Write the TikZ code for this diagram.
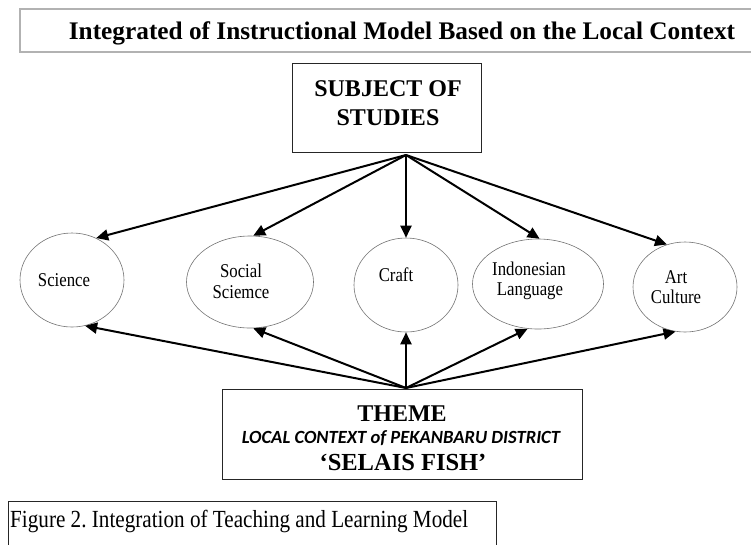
\documentclass[tikz,border=0pt]{standalone}
\usepackage{fontspec}
\setmainfont{Liberation Serif}
\newfontfamily\nrwfont{Liberation Serif}[FakeStretch=0.86]
\newfontfamily\calfont{Carlito}
\usetikzlibrary{arrows.meta,shapes.geometric}
\frenchspacing
\tikzset{
  ell/.style={draw=black!55, line width=0.6pt, ellipse, inner sep=0pt},
  box/.style={draw=black!85, line width=0.9pt, inner sep=0pt},
  arr/.style={line width=2pt, -{Triangle[length=12pt,width=11pt]}},
  small/.style={font=\nrwfont\fontsize{19.5}{21}\selectfont, anchor=base, inner sep=0pt},
  big/.style={font=\bfseries\fontsize{24}{28}\selectfont, anchor=base, inner sep=0pt},
}
\begin{document}
\begin{tikzpicture}[x=1pt,y=-1pt]
\useasboundingbox (0,0) rectangle (751,544);
\clip (0,0) rectangle (751,544);
% title
\draw[draw=black!30, line width=1.4pt] (20,9) rectangle (770,52);
\node[anchor=base, inner sep=0pt, font=\bfseries\fontsize{25.3}{28}\selectfont] (title) at (402,39) {Integrated of Instructional Model Based on the Local Context};
% subject box
\node[box, minimum width=189pt, minimum height=89pt] (subj) at (386.5,107.5) {};
\node[big] (subj1) at (388,96) {SUBJECT OF};
\node[big] (subj2) at (388,125) {STUDIES};
% theme box
\node[box, minimum width=360pt, minimum height=90pt] (theme) at (402,434) {};
\node[big] (theme1) at (402,421) {THEME};
\node[anchor=base, inner sep=0pt, font=\calfont\bfseries\itshape\fontsize{18.6}{20}\selectfont] (theme2) at (401,443) {LOCAL CONTEXT of PEKANBARU DISTRICT};
\node[anchor=base, inner sep=0pt, font=\bfseries\fontsize{24.5}{28}\selectfont] (theme3) at (403,470) {‘SELAIS FISH’};
% apexes
\coordinate (top) at (406,155);
\coordinate (bot) at (406,388);
% ellipses
\node[ell, minimum width=104pt, minimum height=94pt] (sci) at (72,280) {};
\node[ell, minimum width=127pt, minimum height=92pt] (soc) at (250,282) {};
\node[ell, minimum width=104pt, minimum height=94pt] (cra) at (406,285) {};
\node[ell, minimum width=131pt, minimum height=90pt] (ind) at (538,284) {};
\node[ell, minimum width=104pt, minimum height=90pt] (art) at (685,287) {};
\node[small] (scit) at (64,286) {Science};
\node[small] (soct1) at (241,277) {Social};
\node[small] (soct2) at (241,298) {Sciemce};
\node[small] (crat) at (396,281) {Craft};
\node[small] (indt1) at (529,275) {Indonesian};
\node[small] (indt2) at (530,295) {Language};
\node[small] (artt1) at (676,283) {Art};
\node[small] (artt2) at (676,303) {Culture};
% arrows from subject
\draw[arr] (top) -- (sci.60);
\draw[arr] (top) -- (soc.86);
\draw[arr] (top) -- (cra.90);
\draw[arr] (top) -- (ind.88);
\draw[arr] (top) -- (art.113);
% arrows from theme
\draw[arr] (bot) -- (sci.-74);
\draw[arr] (bot) -- (soc.-86);
\draw[arr] (bot) -- (cra.-90);
\draw[arr] (bot) -- (ind.-103);
\draw[arr] (bot) -- (art.-102);
% caption
\draw[draw=black!85, line width=0.9pt] (8,501) rectangle (496,560);
\node[anchor=base west, inner sep=0pt, font=\nrwfont\fontsize{24.6}{28}\selectfont] (cap) at (10,527) {Figure 2. Integration of Teaching and Learning Model};
\end{tikzpicture}
\end{document}
